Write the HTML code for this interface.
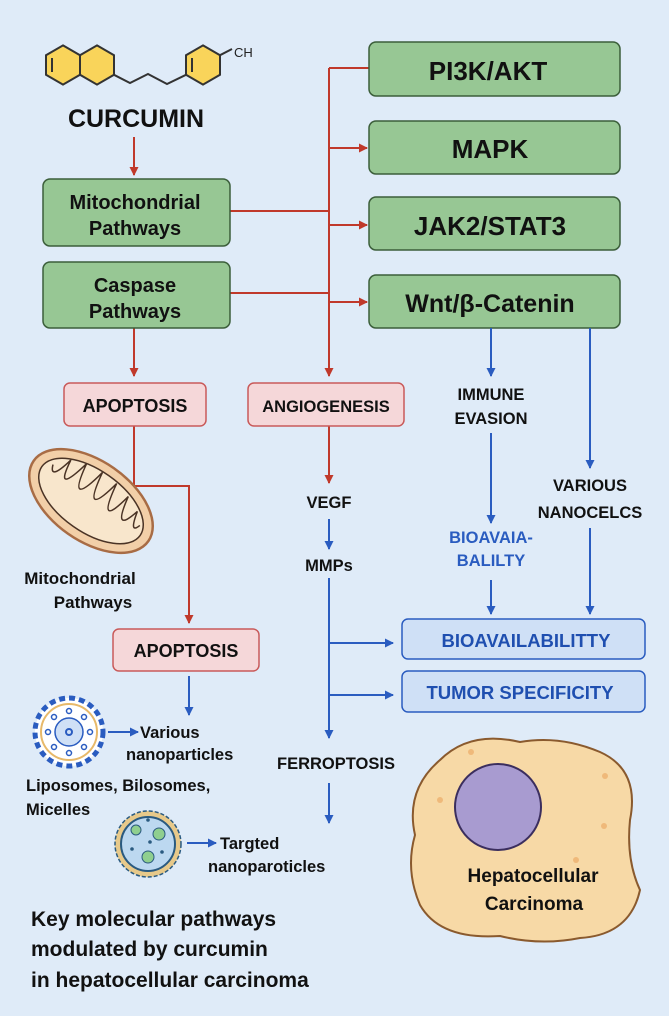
<!DOCTYPE html>
<html><head><meta charset="utf-8"><style>
html,body{margin:0;padding:0;background:#dfebf8;}
svg{display:block;font-family:"Liberation Sans",sans-serif;font-weight:bold;}
</style></head><body>
<svg width="669" height="1016" viewBox="0 0 669 1016" xmlns="http://www.w3.org/2000/svg">
<defs>
<marker id="ar" markerWidth="9" markerHeight="9" refX="8" refY="4.5" orient="auto" markerUnits="userSpaceOnUse" viewBox="0 0 9 9"><path d="M0,0 L9,4.5 L0,9 z" fill="#c0392b"/></marker>
<marker id="ab" markerWidth="9" markerHeight="9" refX="8" refY="4.5" orient="auto" markerUnits="userSpaceOnUse" viewBox="0 0 9 9"><path d="M0,0 L9,4.5 L0,9 z" fill="#2a5cc0"/></marker>
</defs>
<rect width="669" height="1016" fill="#dfebf8"/>

<!-- molecule -->
<g stroke="#333" stroke-width="2" fill="#f9d45a">
<polygon points="63,45.4 80,55.2 80,74.8 63,84.6 46,74.8 46,55.2"/>
<polygon points="97,45.4 114,55.2 114,74.8 97,84.6 80,74.8 80,55.2"/>
<polygon points="203,45.4 220,55.2 220,74.8 203,84.6 186,74.8 186,55.2"/>
<polyline fill="none" points="114,74.8 130,83 148,74 167,84 186,74.8"/>
<line x1="220" y1="55.2" x2="232" y2="49"/>
<polyline fill="none" points="52,58 52,72"/>
<polyline fill="none" points="192,58 192,72"/>
</g>
<text x="234" y="57" font-size="13" fill="#222" font-weight="normal">CH</text>
<text x="136" y="127" font-size="25" text-anchor="middle" fill="#111">CURCUMIN</text>

<!-- red connectors -->
<g stroke="#c0392b" stroke-width="2" fill="none">
<line x1="134" y1="137" x2="134" y2="175" marker-end="url(#ar)"/>
<line x1="329" y1="68" x2="370" y2="68"/>
<line x1="329" y1="68" x2="329" y2="376" marker-end="url(#ar)"/>
<line x1="329" y1="148" x2="367" y2="148" marker-end="url(#ar)"/>
<line x1="329" y1="225" x2="367" y2="225" marker-end="url(#ar)"/>
<line x1="329" y1="302" x2="367" y2="302" marker-end="url(#ar)"/>
<line x1="230" y1="211" x2="329" y2="211"/>
<line x1="230" y1="293" x2="329" y2="293"/>
<line x1="134" y1="328" x2="134" y2="376" marker-end="url(#ar)"/>
<polyline points="134,426 134,486 189,486 189,623" marker-end="url(#ar)"/>
<line x1="329" y1="426" x2="329" y2="483" marker-end="url(#ar)"/>
</g>

<!-- green boxes -->
<g fill="#97c794" stroke="#3b5e3a" stroke-width="1.5">
<rect x="43" y="179" width="187" height="67" rx="7"/>
<rect x="43" y="262" width="187" height="66" rx="7"/>
<rect x="369" y="42" width="251" height="54" rx="7"/>
<rect x="369" y="121" width="251" height="53" rx="7"/>
<rect x="369" y="197" width="251" height="53" rx="7"/>
<rect x="369" y="275" width="251" height="53" rx="7"/>
</g>
<g fill="#111" text-anchor="middle">
<text x="135" y="209" font-size="20">Mitochondrial</text>
<text x="135" y="235" font-size="20">Pathways</text>
<text x="135" y="292" font-size="20">Caspase</text>
<text x="135" y="318" font-size="20">Pathways</text>
<text x="488" y="80" font-size="26">PI3K/AKT</text>
<text x="490" y="158" font-size="26">MAPK</text>
<text x="490" y="235" font-size="26">JAK2/STAT3</text>
<text x="490" y="312" font-size="25">Wnt/β-Catenin</text>
</g>

<!-- pink boxes -->
<g fill="#f5d7d9" stroke="#c95a5a" stroke-width="1.5">
<rect x="64" y="383" width="142" height="43" rx="6"/>
<rect x="248" y="383" width="156" height="43" rx="6"/>
<rect x="113" y="629" width="146" height="42" rx="6"/>
</g>
<g fill="#111" text-anchor="middle">
<text x="135" y="412" font-size="18">APOPTOSIS</text>
<text x="326" y="412" font-size="16.5">ANGIOGENESIS</text>
<text x="186" y="657" font-size="18">APOPTOSIS</text>
</g>

<!-- mitochondrion -->
<g transform="translate(91,501) rotate(35)">
<ellipse cx="0" cy="0" rx="70" ry="40" fill="#f2cfa8" stroke="#a86c45" stroke-width="2.5"/>
<ellipse cx="0" cy="0" rx="60" ry="31" fill="#f8e6cc" stroke="#4a3325" stroke-width="1.5"/>
<path d="M-52,-8 Q-46,8 -40,-22 Q-34,18 -25,-28 Q-16,22 -7,-30 Q2,22 11,-29 Q20,22 28,-25 Q36,16 44,-18 Q50,6 54,-8" fill="none" stroke="#4a3325" stroke-width="1.5"/>
</g>
<text x="80" y="584" font-size="17" fill="#111" text-anchor="middle">Mitochondrial</text>
<text x="93" y="608" font-size="17" fill="#111" text-anchor="middle">Pathways</text>

<!-- blue connectors -->
<g stroke="#2a5cc0" stroke-width="2" fill="none">
<line x1="189" y1="676" x2="189" y2="715" marker-end="url(#ab)"/>
<line x1="108" y1="732" x2="138" y2="732" marker-end="url(#ab)"/>
<line x1="187" y1="843" x2="216" y2="843" marker-end="url(#ab)"/>
<line x1="329" y1="519" x2="329" y2="549" marker-end="url(#ab)"/>
<line x1="329" y1="578" x2="329" y2="738" marker-end="url(#ab)"/>
<line x1="329" y1="643" x2="393" y2="643" marker-end="url(#ab)"/>
<line x1="329" y1="695" x2="393" y2="695" marker-end="url(#ab)"/>
<line x1="329" y1="783" x2="329" y2="823" marker-end="url(#ab)"/>
<line x1="491" y1="328" x2="491" y2="376" marker-end="url(#ab)"/>
<line x1="491" y1="433" x2="491" y2="523" marker-end="url(#ab)"/>
<line x1="491" y1="580" x2="491" y2="614" marker-end="url(#ab)"/>
<line x1="590" y1="328" x2="590" y2="468" marker-end="url(#ab)"/>
<line x1="590" y1="528" x2="590" y2="614" marker-end="url(#ab)"/>
</g>
<g fill="#111" text-anchor="middle" font-size="16.5">
<text x="329" y="508">VEGF</text>
<text x="329" y="571">MMPs</text>
<text x="336" y="769">FERROPTOSIS</text>
<text x="491" y="400">IMMUNE</text>
<text x="491" y="424">EVASION</text>
<text x="590" y="491">VARIOUS</text>
<text x="590" y="518">NANOCELCS</text>
</g>
<g fill="#2a5cc0" text-anchor="middle" font-size="16.5">
<text x="491" y="543">BIOAVAIA-</text>
<text x="491" y="566">BALILTY</text>
</g>
<g fill="#cfe0f6" stroke="#2a5cc0" stroke-width="1.5">
<rect x="402" y="619" width="243" height="40" rx="6"/>
<rect x="402" y="671" width="243" height="41" rx="6"/>
</g>
<g fill="#1f4fb0" text-anchor="middle" font-size="18.5">
<text x="526" y="647">BIOAVAILABILITTY</text>
<text x="520" y="699">TUMOR SPECIFICITY</text>
</g>

<!-- liposome -->
<g>
<circle cx="69" cy="732" r="34" fill="#fff" stroke="#2a5cc0" stroke-width="5" stroke-dasharray="6 4"/>
<circle cx="69" cy="732" r="28" fill="#fff" stroke="#e7b96a" stroke-width="2"/>
<circle cx="69" cy="732" r="14" fill="#cfe0f6" stroke="#2a5cc0" stroke-width="1.5"/>
<circle cx="69" cy="732" r="3" fill="none" stroke="#2a5cc0" stroke-width="2"/>
<g fill="none" stroke="#2a5cc0" stroke-width="1.5">
<circle cx="69" cy="711" r="2.5"/><circle cx="69" cy="753" r="2.5"/><circle cx="48" cy="732" r="2.5"/><circle cx="90" cy="732" r="2.5"/>
<circle cx="54" cy="717" r="2.5"/><circle cx="84" cy="717" r="2.5"/><circle cx="54" cy="747" r="2.5"/><circle cx="84" cy="747" r="2.5"/>
</g>
</g>
<!-- micelle -->
<g>
<circle cx="148" cy="844" r="33" fill="#e7c98a" stroke="#2a5a80" stroke-width="1.5" stroke-dasharray="4 2"/>
<circle cx="148" cy="844" r="27" fill="#bcd8f0" stroke="#2a5a80" stroke-width="2"/>
<circle cx="136" cy="830" r="5" fill="#8fcf8f" stroke="#2a5a80"/>
<circle cx="159" cy="834" r="6" fill="#8fcf8f" stroke="#2a5a80"/>
<circle cx="148" cy="857" r="6" fill="#8fcf8f" stroke="#2a5a80"/>
<circle cx="132" cy="849" r="1.8" fill="#2a5a80"/><circle cx="150" cy="842" r="1.8" fill="#2a5a80"/><circle cx="162" cy="852" r="1.8" fill="#2a5a80"/><circle cx="148" cy="820" r="1.8" fill="#2a5a80"/>
</g>
<g fill="#111" font-size="16.5">
<text x="140" y="738">Various</text>
<text x="126" y="760">nanoparticles</text>
<text x="26" y="791">Liposomes, Bilosomes,</text>
<text x="26" y="815">Micelles</text>
<text x="220" y="849">Targted</text>
<text x="208" y="872">nanoparoticles</text>
</g>

<!-- cell -->
<path d="M440,760 Q470,730 520,742 Q560,735 600,752 Q640,770 630,820 Q626,860 640,890 Q630,935 580,938 Q540,946 500,936 Q440,940 420,905 Q405,870 415,835 Q405,790 440,760 Z" fill="#f7d9a6" stroke="#8a5a2e" stroke-width="2"/>
<circle cx="498" cy="807" r="43" fill="#a89bd0" stroke="#3b2e5e" stroke-width="2"/>
<g fill="#efb97a"><circle cx="471" cy="752" r="3"/><circle cx="605" cy="776" r="3"/><circle cx="604" cy="826" r="3"/><circle cx="440" cy="800" r="3"/><circle cx="576" cy="860" r="3"/></g>
<g fill="#111" font-size="19" text-anchor="middle">
<text x="533" y="882">Hepatocellular</text>
<text x="534" y="910">Carcinoma</text>
</g>

<g fill="#111" font-size="21">
<text x="31" y="926">Key molecular pathways</text>
<text x="31" y="956">modulated by curcumin</text>
<text x="31" y="987">in hepatocellular carcinoma</text>
</g>
</svg>
</body></html>
